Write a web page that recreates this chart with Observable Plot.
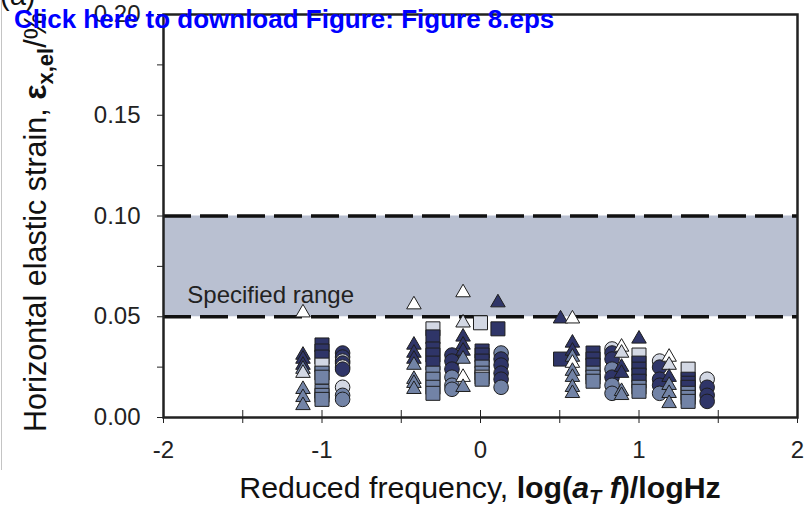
<!DOCTYPE html>
<html><head><meta charset="utf-8">
<script src="https://cdn.jsdelivr.net/npm/d3@7"></script>
<script src="https://cdn.jsdelivr.net/npm/@observablehq/plot@0.6"></script>
<style>
html,body{margin:0;padding:0;background:#fff;}
#wrap{position:relative;width:805px;height:506px;overflow:hidden;}
#edge{position:absolute;left:1px;top:0;width:1px;height:470px;background:#c4c4c4;}
</style></head>
<body><div id="wrap"><div id="edge"></div></div>
<script>
// ---- data ----
const xTicks = [-2, -1.5, -1, -0.5, 0, 0.5, 1, 1.5, 2];
const yTicks = [0, 0.025, 0.05, 0.075, 0.1, 0.125, 0.15, 0.175, 0.2];
const bandRange = [0.05, 0.10];
const bandLabel = [{x: -1.85, y: 0.0604, text: "Specified range"}];
const tones = ["dark", "mid", "light", "white"];
const toneColors = ["#2f3568", "#7283a6", "#d3d8e4", "#ffffff"];

// triangles
const triX = [
  -1.12, -1.12, -1.12, -1.12, -1.12, -1.12, -1.12, -1.12, -1.12,
  -0.42, -0.42, -0.42, -0.42, -0.42, -0.42, -0.42, -0.42,
  -0.11, -0.11, -0.11, -0.11, -0.11, -0.11, -0.11, -0.11,
  0.11, 0.505,
  0.58, 0.58, 0.58, 0.58, 0.58, 0.58, 0.58, 0.58, 0.58,
  0.89, 0.89, 0.89, 0.89, 0.89, 0.89,
  1.0,
  1.19, 1.19, 1.19, 1.19, 1.19, 1.19
];
const triY = [
  0.052, 0.031, 0.029, 0.026, 0.024, 0.022, 0.014, 0.010, 0.006,
  0.056, 0.036, 0.032, 0.029, 0.026, 0.019, 0.017, 0.014,
  0.062, 0.047, 0.040, 0.036, 0.033, 0.029, 0.020, 0.015,
  0.057, 0.049,
  0.049, 0.037, 0.033, 0.030, 0.027, 0.023, 0.020, 0.015, 0.012,
  0.035, 0.032, 0.025, 0.022, 0.013, 0.011,
  0.039,
  0.030, 0.026, 0.020, 0.016, 0.012, 0.007
];
const triTone = [
  "white", "dark", "dark", "dark", "mid", "light", "mid", "mid", "mid",
  "white", "dark", "dark", "dark", "mid", "mid", "mid", "mid",
  "white", "light", "dark", "dark", "dark", "mid", "white", "mid",
  "dark", "dark",
  "white", "dark", "dark", "mid", "white", "mid", "mid", "mid", "mid",
  "white", "light", "dark", "dark", "mid", "mid",
  "dark",
  "white", "light", "dark", "mid", "mid", "mid"
];

// squares
const sqX = [
  -1.0, -1.0, -1.0, -1.0, -1.0, -1.0, -1.0, -1.0, -1.0,
  -0.30, -0.30, -0.30, -0.30, -0.30, -0.30, -0.30, -0.30, -0.30,
  0.0, 0.01, 0.01, 0.01, 0.01, 0.01, 0.01, 0.01,
  0.11, 0.505,
  0.71, 0.71, 0.71, 0.71, 0.71, 0.71,
  1.0, 1.0, 1.0, 1.0, 1.0, 1.0, 1.0,
  1.31, 1.31, 1.31, 1.31, 1.31, 1.31, 1.31
];
const sqY = [
  0.036, 0.033, 0.030, 0.026, 0.022, 0.020, 0.013, 0.011, 0.009,
  0.044, 0.040, 0.034, 0.031, 0.027, 0.022, 0.019, 0.015, 0.012,
  0.047, 0.033, 0.031, 0.028, 0.025, 0.022, 0.020, 0.019,
  0.044, 0.029,
  0.032, 0.029, 0.026, 0.022, 0.020, 0.018,
  0.031, 0.027, 0.024, 0.021, 0.018, 0.015, 0.013,
  0.024, 0.019, 0.017, 0.015, 0.012, 0.010, 0.008
];
const sqTone = [
  "dark", "dark", "dark", "light", "mid", "mid", "mid", "mid", "mid",
  "light", "dark", "dark", "dark", "dark", "mid", "mid", "mid", "mid",
  "light", "dark", "dark", "dark", "mid", "mid", "light", "mid",
  "dark", "dark",
  "dark", "dark", "dark", "mid", "mid", "mid",
  "light", "dark", "dark", "dark", "dark", "mid", "mid",
  "light", "dark", "dark", "dark", "mid", "mid", "mid"
];

// circles
const ciX = [
  -0.87, -0.87, -0.87, -0.87, -0.87, -0.87, -0.87, -0.87, -0.87,
  -0.18, -0.18, -0.18, -0.18, -0.18, -0.18,
  0.13, 0.13, 0.13, 0.13, 0.13, 0.13,
  0.83, 0.83, 0.83, 0.83, 0.83, 0.83, 0.83,
  1.13, 1.13, 1.13, 1.13, 1.13,
  1.43, 1.43, 1.43, 1.43
];
const ciY = [
  0.032, 0.030, 0.028, 0.027, 0.025, 0.024, 0.015, 0.011, 0.009,
  0.031, 0.028, 0.024, 0.020, 0.016, 0.014,
  0.032, 0.029, 0.026, 0.022, 0.019, 0.015,
  0.034, 0.032, 0.029, 0.024, 0.020, 0.016, 0.012,
  0.028, 0.025, 0.019, 0.016, 0.012,
  0.019, 0.015, 0.011, 0.008
];
const ciTone = [
  "dark", "dark", "light", "dark", "white", "dark", "light", "mid", "mid",
  "dark", "dark", "dark", "mid", "mid", "mid",
  "mid", "dark", "dark", "dark", "dark", "mid",
  "light", "dark", "dark", "mid", "dark", "mid", "mid",
  "light", "dark", "dark", "dark", "mid",
  "light", "dark", "dark", "dark"
];

const rows = (xs, ys, ts) => xs.map((x, i) => ({x, y: ys[i], tone: ts[i]}));
const triangles = rows(triX, triY, triTone);
const squares = rows(sqX, sqY, sqTone);
const circles = rows(ciX, ciY, ciTone);

const font = "'Liberation Sans', Arial, Helvetica, sans-serif";
const edge = "#1e1e1e";

const chart = Plot.plot({
  width: 805,
  height: 506,
  marginTop: 14,
  marginBottom: 89,
  marginLeft: 163,
  marginRight: 8,
  style: {fontFamily: font, fontSize: "24px", color: "#222", background: "#fff", overflow: "visible"},
  x: {domain: [-2, 2], label: null},
  y: {domain: [0, 0.2], label: null},
  color: {type: "ordinal", domain: tones, range: toneColors},
  marks: [
    Plot.rect([bandRange], {y1: d => d[0], y2: d => d[1], fill: "#b9c0d1"}),
    Plot.ruleY(bandRange, {stroke: "#111", strokeWidth: 3.5, strokeDasharray: "28,9"}),
    Plot.frame({stroke: "#222", strokeWidth: 2.5}),
    Plot.axisY(yTicks, {tickSize: 6, tickPadding: 17, label: null, fontSize: 24,
      tickFormat: d => Math.abs(d * 20 - Math.round(d * 20)) < 1e-9 ? d.toFixed(2) : ""}),
    Plot.axisX(xTicks, {tickSize: 13, dy: -7, tickPadding: 17, label: null, fontSize: 24,
      tickFormat: d => Number.isInteger(d) ? String(d) : ""}),
    Plot.text(bandLabel, {x: "x", y: "y", text: "text", textAnchor: "start", fontSize: 24, fill: "#222"}),
    Plot.dot(circles, {x: "x", y: "y", fill: "tone", stroke: edge, strokeWidth: 1, r: 7.3, symbol: "circle"}),
    Plot.dot(squares, {x: "x", y: "y", fill: "tone", stroke: edge, strokeWidth: 1, r: 7.9, symbol: "square"}),
    Plot.dot(triangles, {x: "x", y: "y", fill: "tone", stroke: edge, strokeWidth: 1, r: 5.4, symbol: "triangle"})
  ]
});

document.getElementById("wrap").appendChild(chart);
const svg = d3.select(chart);

// y-axis title
const yl = svg.append("text")
  .attr("transform", "translate(46,432) rotate(-90)")
  .attr("text-anchor", "start")
  .attr("font-size", 30.5).attr("fill", "#111");
yl.append("tspan").text("Horizontal elastic strain, ");
yl.append("tspan").attr("font-weight", "bold").attr("font-size", 32).text("ε");
yl.append("tspan").attr("font-weight", "bold").attr("font-size", 22).attr("dy", 7).text("x,el");
yl.append("tspan").attr("dy", -7).text("/%");

// x-axis title
const xl = svg.append("text")
  .attr("x", 480).attr("y", 498).attr("text-anchor", "middle")
  .attr("font-size", 30.3).attr("fill", "#111");
xl.append("tspan").text("Reduced frequency, ");
xl.append("tspan").attr("font-weight", "bold").text("log(");
xl.append("tspan").attr("font-weight", "bold").attr("font-style", "italic").text("a");
xl.append("tspan").attr("font-weight", "bold").attr("font-style", "italic").attr("font-size", 20).attr("dy", 6).text("T");
xl.append("tspan").attr("font-weight", "bold").attr("font-style", "italic").attr("dy", -6).text(" f");
xl.append("tspan").attr("font-weight", "bold").text(")/logHz");

// panel tag
svg.append("text").attr("x", 0).attr("y", 5).attr("text-anchor", "start")
  .attr("font-size", 29).attr("fill", "#111").text("(a)");

// download banner
svg.append("text").attr("x", 14).attr("y", 28).attr("text-anchor", "start")
  .attr("font-size", 26).attr("font-weight", "bold")
  .attr("fill", "#0000ff").text("Click here to download Figure: Figure 8.eps");
</script>
</body></html>
